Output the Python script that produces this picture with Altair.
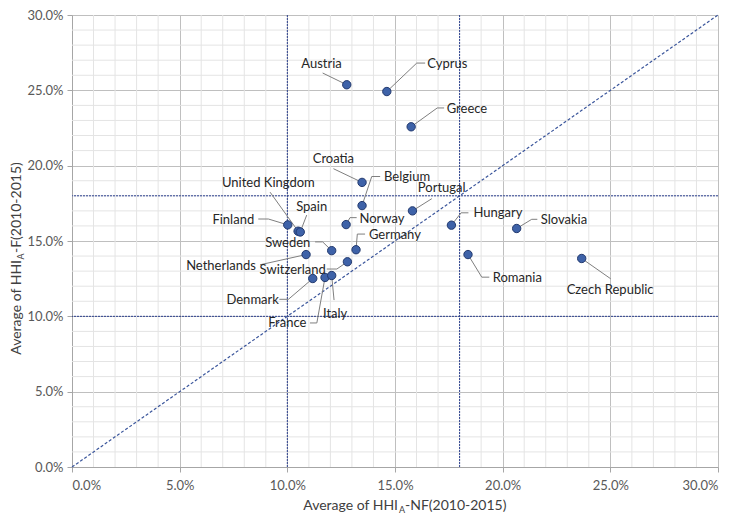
import altair as alt
import pandas as pd

# ---- data ----
countries = ["Austria", "Cyprus", "Greece", "Croatia", "Belgium", "Portugal",
             "United Kingdom", "Spain", "Finland", "Norway", "Hungary", "Slovakia",
             "Sweden", "Germany", "Netherlands", "Switzerland", "Denmark", "France",
             "Italy", "Romania", "Czech Republic"]
avg_nf = [12.76, 14.62, 15.75, 13.47, 13.47, 15.81, 10.50, 10.60, 10.02, 12.73, 17.62,
          20.65, 12.06, 13.19, 10.87, 12.79, 11.18, 11.75, 12.06, 18.39, 23.67]
avg_f = [25.37, 24.92, 22.58, 18.89, 17.35, 17.00, 15.65, 15.60, 16.07, 16.09, 16.05,
         15.83, 14.36, 14.42, 14.10, 13.62, 12.51, 12.58, 12.71, 14.10, 13.84]

# label anchors (annotation placement, in axis units)
label_x = [11.59, 16.50, 17.40, 12.14, 14.49, 17.17, 9.12, 11.13, 7.49, 13.35, 18.64,
           21.77, 10.02, 13.79, 6.92, 10.25, 8.39, 10.00, 12.22, 19.54, 24.99]
label_y = [26.76, 26.76, 23.73, 20.47, 19.26, 18.50, 18.85, 17.26, 16.42, 16.48, 16.87,
           16.38, 14.90, 15.42, 13.32, 13.08, 11.08, 9.56, 10.17, 12.56, 11.78]
label_align = ["center", "left", "left", "center", "left", "center", "center", "center",
               "center", "left", "left", "left", "center", "left", "center", "center",
               "center", "center", "center", "left", "center"]
leader_via = [
    [(11.64, 26.15)],
    [(16.40, 26.81), (16.01, 26.81)],
    [(17.28, 23.83), (16.96, 23.83)],
    [(12.14, 19.80)],
    [(14.31, 19.28), (13.92, 19.28)],
    [(16.71, 17.81)],
    [(9.20, 18.24)],
    [(10.90, 16.72)],
    [(8.65, 16.46), (9.12, 16.46)],
    [(13.22, 16.55), (12.91, 16.55)],
    [(18.41, 16.87), (18.07, 16.87)],
    [(21.61, 16.44), (21.35, 16.44)],
    [(11.29, 14.94), (11.64, 14.94)],
    [(13.61, 15.46), (13.25, 15.46)],
    [(8.73, 13.42)],
    [(11.83, 13.14), (12.30, 13.14)],
    [(9.63, 11.13), (10.05, 11.13)],
    [(11.05, 9.56), (11.37, 9.56)],
    [(12.17, 11.08)],
    [(19.38, 12.60), (19.03, 12.60)],
    [(25.02, 12.49)],
]

thresholds = [10.0, 18.0]
diagonal = [0.0, 30.0]
major_ticks = [0, 5, 10, 15, 20, 25, 30]
minor_ticks = [v for v in range(0, 31) if v % 5 != 0]

# ---- tables ----
pts = pd.DataFrame({"country": countries, "nf": avg_nf, "f": avg_f})
lab = pd.DataFrame({"country": countries, "lx": label_x, "ly": label_y, "align": label_align})
rows = []
for c, x, y, via in zip(countries, avg_nf, avg_f, leader_via):
    k = 0
    for vx, vy in via:
        rows.append({"country": c, "x": vx, "y": vy, "o": k})
        k += 1
    rows.append({"country": c, "x": x, "y": y, "o": k})
leaders = pd.DataFrame(rows)
diag_df = pd.DataFrame({"x": diagonal, "y": diagonal})
thr_df = pd.DataFrame({"v": thresholds})
minor_df = pd.DataFrame({"v": minor_ticks})
one = pd.DataFrame({"a": [0]})

W, H = 646, 452
FONT = "Lato"
GREY = "#595959"

xs = alt.Scale(domain=[0, 30], nice=False, zero=True)
ys = alt.Scale(domain=[0, 30], nice=False, zero=True)
fmt = "format(datum.value, '.1f') + '%'"

x_axis = alt.Axis(values=major_ticks, labelExpr=fmt, title=None, grid=True,
                  gridColor="#BFBFBF", domainColor="#A6A6A6", tickColor="#A6A6A6",
                  tickSize=5, labelPadding=7, labelFont=FONT, labelFontSize=13,
                  labelColor=GREY)
y_axis = alt.Axis(values=major_ticks, labelExpr=fmt, title=None, grid=True,
                  gridColor="#BFBFBF", domainColor="#A6A6A6", tickColor="#A6A6A6",
                  tickSize=5, labelPadding=4, labelFont=FONT, labelFontSize=13,
                  labelColor=GREY)

minor_v = alt.Chart(minor_df).mark_rule(color="#E4E4E4", strokeWidth=1).encode(
    x=alt.X("v:Q", scale=xs, axis=x_axis))
minor_h = alt.Chart(minor_df).mark_rule(color="#E4E4E4", strokeWidth=1).encode(
    y=alt.Y("v:Q", scale=ys, axis=y_axis))

thr_v = alt.Chart(thr_df).mark_rule(color="#2B3F8F", strokeWidth=1, strokeDash=[2, 1]).encode(
    x=alt.X("v:Q", scale=xs))
thr_h = alt.Chart(thr_df).mark_rule(color="#2B3F8F", strokeWidth=1, strokeDash=[2, 1]).encode(
    y=alt.Y("v:Q", scale=ys))

diag = alt.Chart(diag_df).mark_line(color="#3A559B", strokeWidth=1.2, strokeDash=[3, 2]).encode(
    x=alt.X("x:Q", scale=xs), y=alt.Y("y:Q", scale=ys))

lead = alt.Chart(leaders).mark_line(color="#7F7F7F", strokeWidth=1).encode(
    x=alt.X("x:Q", scale=xs), y=alt.Y("y:Q", scale=ys),
    detail="country:N", order="o:Q")

dots = alt.Chart(pts).mark_circle(size=70, opacity=1, fill="#3E62A8", stroke="#22396E",
                                  strokeWidth=1).encode(
    x=alt.X("nf:Q", scale=xs), y=alt.Y("f:Q", scale=ys), tooltip=["country:N"])

def labels(al):
    return alt.Chart(lab).transform_filter(alt.datum.align == al).mark_text(
        align=al, baseline="middle", font=FONT, fontSize=13, color="#262626").encode(
        x=alt.X("lx:Q", scale=xs), y=alt.Y("ly:Q", scale=ys), text="country:N")

def ttext(txt, x, y, size=14, align="left", angle=0):
    return alt.Chart(one).mark_text(text=txt, align=align, baseline="middle", font=FONT,
                                    fontSize=size, color="#404040", angle=angle).encode(
        x=alt.value(x), y=alt.value(y))

xt = ttext("Average of HHI", 326.0, 491, align="right") + \
     ttext("A", 327.0, 495, size=9) + \
     ttext("-NF(2010-2015)", 333.0, 491)
yt = ttext("Average of HHI", -55, 245, align="right", angle=270) + \
     ttext("A", -51, 244.5, size=9, angle=270) + \
     ttext("-F(2010-2015)", -55, 238, angle=270)

chart = alt.layer(minor_v, minor_h, thr_v, thr_h, diag, lead, dots,
                  labels("center"), labels("left"), xt, yt).properties(
    width=W, height=H,
    autosize=alt.AutoSizeParams(type="none"),
    padding={"left": 64, "top": 7, "right": 12, "bottom": 51},
).configure_view(stroke=None).configure_axis(domainWidth=1)

chart.save("out.html", embed_options={"renderer": "svg", "actions": False})
